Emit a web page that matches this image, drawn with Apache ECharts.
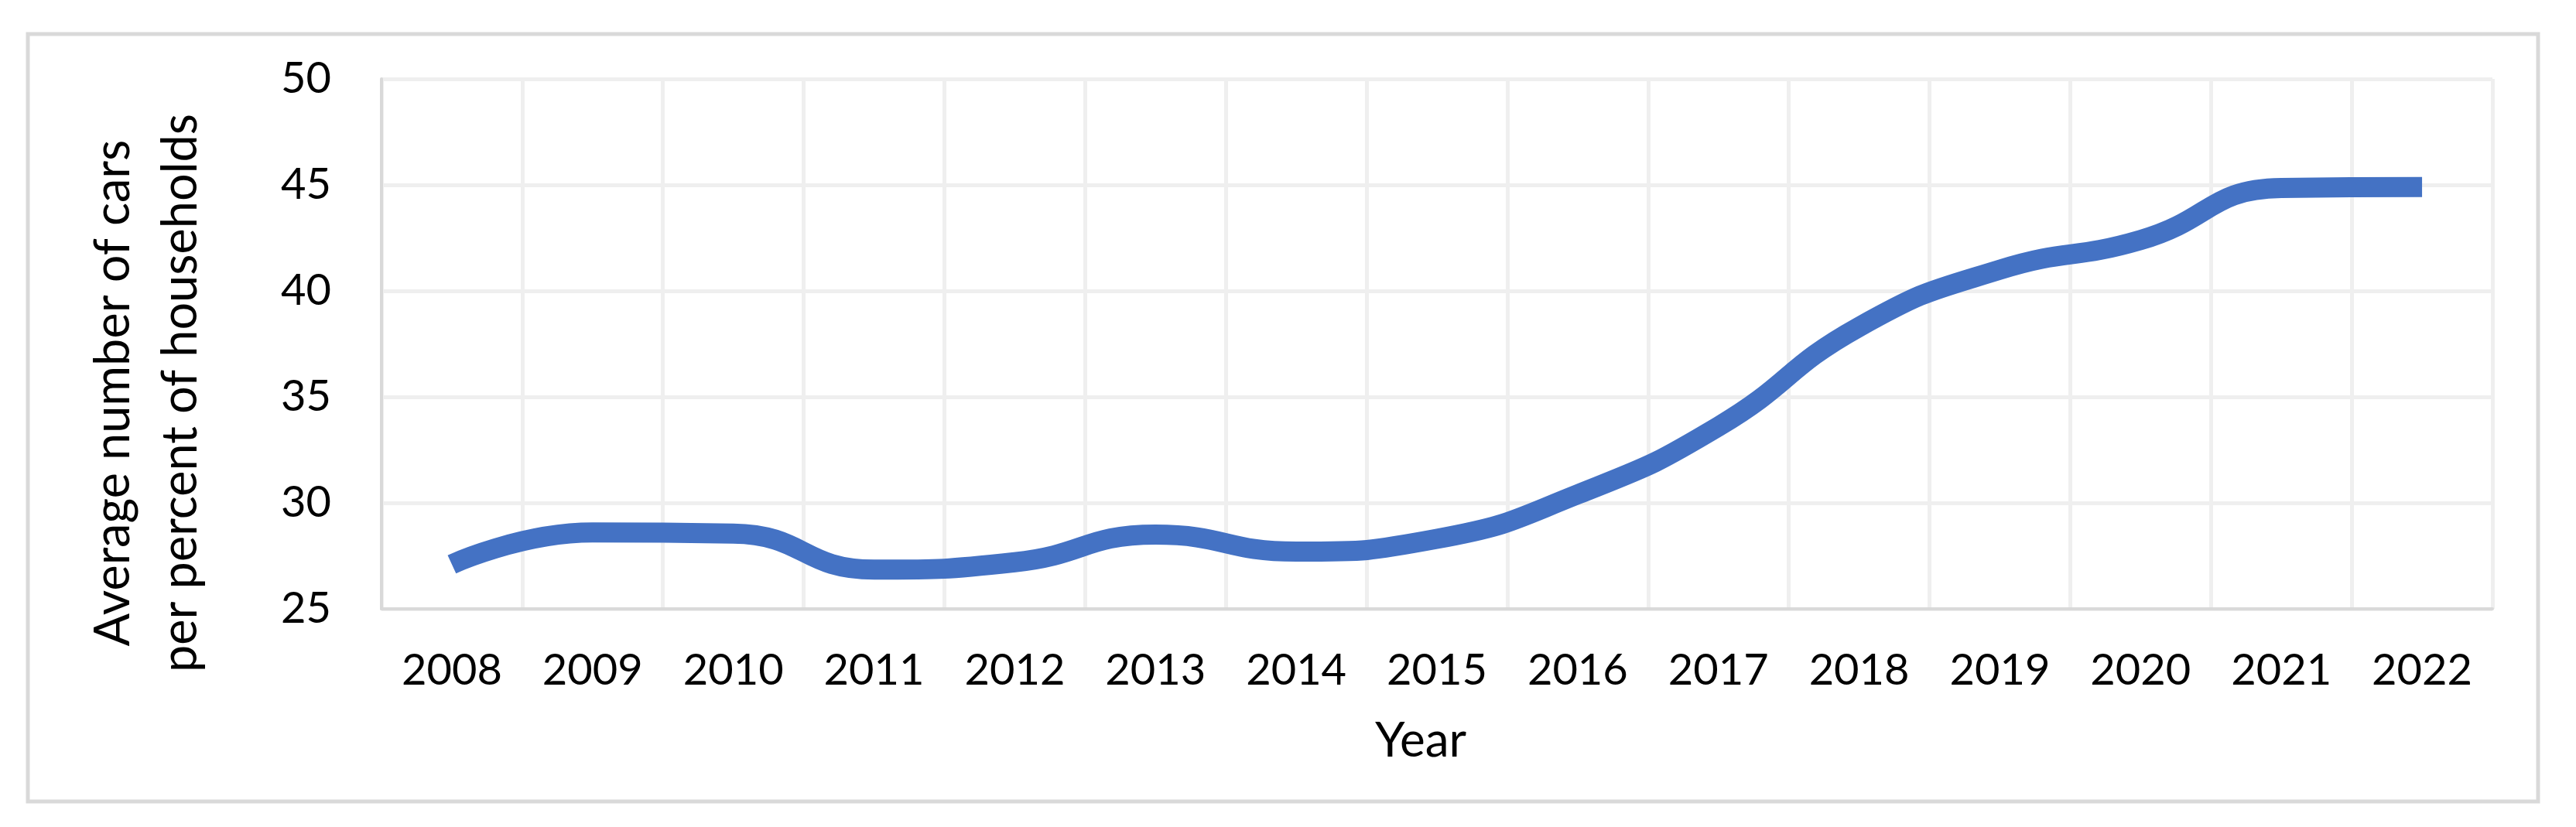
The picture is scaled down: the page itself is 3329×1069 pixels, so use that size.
<!DOCTYPE html>
<html>
<head>
<meta charset="utf-8">
<script src="https://cdn.jsdelivr.net/npm/echarts@6/dist/echarts.min.js"></script>
<style>
html,body{margin:0;padding:0;background:#fff;}
#chart{width:3329px;height:1069px;}
</style>
</head>
<body>
<div id="chart"></div>
<script>
const years = ['2008','2009','2010','2011','2012','2013','2014','2015','2016','2017','2018','2019','2020','2021','2022'];
const carsPerHouseholds = [27.1, 28.6, 28.55, 26.85, 27.2, 28.5, 27.7, 28.3, 30.4, 33.6, 38.3, 41.0, 42.4, 44.85, 44.9];
const yTicks = { min: 25, max: 50, interval: 5 };
const yTitleLines = ['Average number of cars', 'per percent of households'];
const xTitle = 'Year';

const FONT = 'Lato, "Open Sans", sans-serif';
const chart = echarts.init(document.getElementById('chart'), null, {renderer: 'canvas'});
chart.setOption({
  backgroundColor: '#ffffff',
  animation: false,
  grid: { left: 493, right: 108, top: 102, bottom: 282, containLabel: false },
  xAxis: {
    type: 'category',
    data: years,
    boundaryGap: true,
    axisLine: { show: true, lineStyle: { color: '#d9d9d9', width: 4 } },
    axisTick: { show: false },
    splitLine: { show: true, lineStyle: { color: '#efefef', width: 5 } },
    axisLabel: { color: '#000', fontFamily: FONT, fontSize: 56, margin: 52 }
  },
  yAxis: {
    type: 'value',
    min: yTicks.min, max: yTicks.max, interval: yTicks.interval,
    axisLine: { show: true, lineStyle: { color: '#d9d9d9', width: 4 } },
    axisTick: { show: false },
    splitLine: { show: true, lineStyle: { color: '#efefef', width: 5 } },
    axisLabel: { color: '#000', fontFamily: FONT, fontSize: 56, margin: 65 }
  },
  series: [{
    type: 'line',
    data: carsPerHouseholds,
    smooth: 0.5,
    showSymbol: false,
    symbol: 'none',
    lineStyle: { color: '#4472C4', width: 26, cap: 'butt' },
    itemStyle: { color: '#4472C4' }
  }],
  graphic: [
    {
      type: 'rect', z: -1,
      shape: { x: 36, y: 44, width: 3244, height: 992 },
      style: { fill: 'none', stroke: '#d9d9d9', lineWidth: 5 }
    },
    {
      type: 'text',
      x: 190, y: 508, rotation: Math.PI / 2,
      style: {
        text: yTitleLines.join('\n'),
        font: '63px ' + FONT,
        fill: '#000',
        align: 'center',
        verticalAlign: 'middle',
        lineHeight: 87
      }
    },
    {
      type: 'text',
      x: 1836, y: 958,
      style: {
        text: xTitle,
        font: '62px ' + FONT,
        fill: '#000',
        align: 'center',
        verticalAlign: 'middle'
      }
    }
  ]
});
</script>
</body>
</html>
